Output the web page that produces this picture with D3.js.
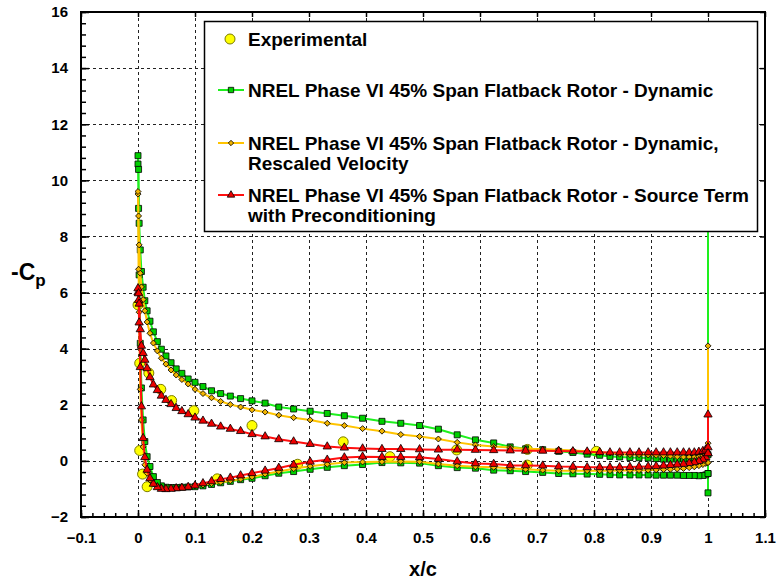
<!DOCTYPE html>
<html>
<head>
<meta charset="utf-8">
<script src="https://cdn.jsdelivr.net/npm/d3@7"></script>
<style>
  body { margin: 0; background: #fff; }
  svg { display: block; }
  text { font-family: "Liberation Sans", Arial, sans-serif; font-weight: bold; fill: #000; }
</style>
</head>
<body>
<svg id="grafico" width="778" height="581"></svg>
<script>
// chordwise stations shared by the three CFD runs
const xc = [0, 0.001, 0.002, 0.004, 0.006, 0.009, 0.012, 0.016, 0.021, 0.027,
  0.034, 0.041, 0.049, 0.058, 0.067, 0.077, 0.088, 0.1, 0.114, 0.129,
  0.145, 0.162, 0.18, 0.2, 0.223, 0.247, 0.273, 0.302, 0.332, 0.362,
  0.394, 0.428, 0.461, 0.494, 0.527, 0.56, 0.592, 0.624, 0.653, 0.68,
  0.71, 0.738, 0.763, 0.788, 0.81, 0.828, 0.845, 0.863, 0.879, 0.895,
  0.909, 0.922, 0.934, 0.946, 0.957, 0.967, 0.976, 0.984, 0.991, 0.996, 1.0];

// -Cp, green run (Dynamic)
const dynUpper = [10.88, 10.39, 8.47, 7.52, 6.75, 6.19, 5.71, 5.35, 4.98, 4.6,
  4.25, 3.98, 3.74, 3.5, 3.28, 3.12, 2.92, 2.8, 2.65, 2.5,
  2.4, 2.31, 2.22, 2.14, 2.06, 1.92, 1.85, 1.77, 1.69, 1.61,
  1.52, 1.41, 1.34, 1.26, 1.13, 0.93, 0.75, 0.64, 0.5, 0.43,
  0.4, 0.34, 0.3, 0.24, 0.2, 0.16, 0.14, 0.12, 0.11, 0.1,
  0.08, 0.06, 0.06, 0.06, 0.07, 0.09, 0.11, 0.14, 0.17, 0.2, 0.22];
const dynLower = [10.58, 9.0, 6.63, 4.19, 2.6, 1.46, 0.69, 0.15, -0.2, -0.56,
  -0.77, -0.89, -0.94, -0.95, -0.95, -0.94, -0.93, -0.92, -0.89, -0.84,
  -0.78, -0.73, -0.67, -0.62, -0.53, -0.44, -0.38, -0.3, -0.23, -0.17,
  -0.13, -0.06, -0.07, -0.08, -0.17, -0.24, -0.26, -0.33, -0.35, -0.38,
  -0.41, -0.45, -0.46, -0.47, -0.48, -0.49, -0.5, -0.5, -0.5, -0.5,
  -0.51, -0.51, -0.51, -0.51, -0.52, -0.52, -0.52, -0.53, -0.52, -0.5, -0.45];
const dynBase = [10.0, -1.14];

// -Cp, orange run (Dynamic, rescaled velocity)
const resUpper = [9.6, 8.73, 7.7, 6.69, 6.2, 5.75, 5.35, 4.95, 4.55, 4.2,
  3.92, 3.66, 3.45, 3.24, 3.06, 2.9, 2.74, 2.55, 2.4, 2.25,
  2.12, 2.01, 1.92, 1.82, 1.74, 1.63, 1.54, 1.46, 1.34, 1.26,
  1.15, 1.06, 0.94, 0.87, 0.78, 0.66, 0.57, 0.51, 0.48, 0.42,
  0.42, 0.4, 0.37, 0.34, 0.3, 0.28, 0.24, 0.22, 0.22, 0.21,
  0.2, 0.19, 0.17, 0.15, 0.14, 0.14, 0.14, 0.15, 0.18, 0.22, 0.24];
const resLower = [9.51, 6.83, 5.3, 2.55, 1.46, 0.5, -0.14, -0.44, -0.68, -0.82,
  -0.9, -0.94, -0.95, -0.95, -0.94, -0.93, -0.92, -0.89, -0.86, -0.81,
  -0.76, -0.71, -0.65, -0.57, -0.47, -0.38, -0.28, -0.19, -0.12, -0.06,
  -0.04, -0.03, -0.02, -0.03, -0.11, -0.17, -0.21, -0.23, -0.26, -0.3,
  -0.33, -0.35, -0.35, -0.35, -0.35, -0.35, -0.34, -0.34, -0.34, -0.33,
  -0.32, -0.31, -0.3, -0.29, -0.27, -0.24, -0.21, -0.17, -0.13, -0.09, -0.06];
const resBase = [4.1, 0.63];

// -Cp, red run (Source term with preconditioning)
const srcUpper = [6.15, 5.97, 5.6, 4.69, 4.1, 3.84, 3.6, 3.3, 2.98, 2.72,
  2.52, 2.32, 2.17, 2.02, 1.88, 1.77, 1.66, 1.54, 1.43, 1.32,
  1.22, 1.14, 1.06, 0.95, 0.87, 0.77, 0.69, 0.6, 0.51, 0.47,
  0.44, 0.42, 0.42, 0.41, 0.4, 0.4, 0.39, 0.38, 0.37, 0.36,
  0.36, 0.35, 0.34, 0.33, 0.31, 0.3, 0.3, 0.3, 0.3, 0.3,
  0.3, 0.3, 0.3, 0.3, 0.3, 0.3, 0.3, 0.32, 0.35, 0.4, 0.48];
const srcLower = [6.0, 5.73, 4.93, 3.34, 1.94, 0.81, 0.13, -0.32, -0.62, -0.82,
  -0.94, -1.0, -1.01, -1.0, -0.98, -0.96, -0.93, -0.88, -0.8, -0.73,
  -0.65, -0.6, -0.52, -0.44, -0.35, -0.25, -0.14, -0.03, 0.04, 0.12,
  0.15, 0.14, 0.14, 0.13, 0.07, -0.02, -0.09, -0.11, -0.16, -0.16,
  -0.17, -0.2, -0.21, -0.23, -0.23, -0.23, -0.23, -0.22, -0.21, -0.2,
  -0.19, -0.17, -0.15, -0.13, -0.11, -0.08, -0.05, -0.01, 0.05, 0.13, 0.27];
const srcBase = [1.65];

// experimental taps
const expX = [0, 0.003, 0.019, 0.04, 0.059, 0.098, 0.2, 0.36, 0.559, 0.683, 0.804,
  0.003, 0.008, 0.016, 0.139, 0.28, 0.442, 0.683];
const expCp = [5.56, 3.48, 3.13, 2.55, 2.15, 1.79, 1.26, 0.68, 0.39, 0.41, 0.34,
  0.37, -0.47, -0.92, -0.64, -0.12, 0.15, -0.15];

const xTicks = [-0.1, 0, 0.1, 0.2, 0.3, 0.4, 0.5, 0.6, 0.7, 0.8, 0.9, 1, 1.1];
const yTicks = [-2, 0, 2, 4, 6, 8, 10, 12, 14, 16];

const leyenda = [
  ['Experimental'],
  ['NREL Phase VI 45% Span Flatback Rotor - Dynamic'],
  ['NREL Phase VI 45% Span Flatback Rotor - Dynamic,', 'Rescaled Velocity'],
  ['NREL Phase VI 45% Span Flatback Rotor - Source Term', 'with Preconditioning']
];

const svg = d3.select('#grafico');
const izq = 81, der = 765, arriba = 12, abajo = 517;

const x = d3.scaleLinear().domain([-0.1, 1.1]).range([izq, der]);
const y = d3.scaleLinear().domain([-2, 16]).range([abajo, arriba]);

// grid
const grid = svg.append('g').attr('stroke', '#222').attr('stroke-width', 1).attr('stroke-dasharray', '3,3');
xTicks.slice(1, -1).forEach(t => {
  grid.append('line').attr('x1', Math.round(x(t)) + 0.5).attr('x2', Math.round(x(t)) + 0.5)
    .attr('y1', arriba).attr('y2', abajo);
});
yTicks.slice(1, -1).forEach(t => {
  grid.append('line').attr('y1', Math.round(y(t)) + 0.5).attr('y2', Math.round(y(t)) + 0.5)
    .attr('x1', izq).attr('x2', der);
});

// axes (ticks inside the frame)
const ejeX = svg.append('g').attr('transform', `translate(0,${abajo})`)
  .call(d3.axisBottom(x).tickValues(d3.range(-0.1, 1.1001, 0.02)).tickSize(-4).tickFormat(''));
ejeX.append('g').call(d3.axisBottom(x).tickValues(xTicks).tickSize(-7).tickFormat(d3.format('')));
const ejeY = svg.append('g').attr('transform', `translate(${izq},0)`)
  .call(d3.axisLeft(y).tickValues(d3.range(-2, 16.001, 0.4)).tickSize(-5).tickFormat(''));
ejeY.append('g').call(d3.axisLeft(y).tickValues(yTicks).tickSize(-8).tickFormat(d3.format('')));
svg.append('g').attr('transform', `translate(0,${arriba})`)
  .call(d3.axisTop(x).tickValues(xTicks).tickSize(-5).tickFormat(''));
svg.append('g').attr('transform', `translate(${der},0)`)
  .call(d3.axisRight(y).tickValues(yTicks).tickSize(-5).tickFormat(''));

svg.selectAll('.domain').remove();
svg.selectAll('.tick line').attr('stroke', '#000').attr('stroke-width', 1.5);
ejeX.selectAll('text').attr('font-size', 15).attr('font-weight', 'bold').attr('font-family', '"Liberation Sans", Arial, sans-serif').attr('dy', '1.55em');
ejeY.selectAll('text').attr('font-size', 15).attr('font-weight', 'bold').attr('font-family', '"Liberation Sans", Arial, sans-serif').attr('x', -13);

svg.append('rect').attr('x', izq).attr('y', arriba).attr('width', der - izq).attr('height', abajo - arriba)
  .attr('fill', 'none').attr('stroke', '#000').attr('stroke-width', 2);

// axis titles
svg.append('text').attr('x', x(0.5)).attr('y', 576).attr('text-anchor', 'middle')
  .attr('font-size', 20).text('x/c');
const ty = svg.append('text').attr('x', 11).attr('y', 280).attr('font-size', 23);
ty.append('tspan').text('-C');
ty.append('tspan').attr('font-size', 17).attr('dy', 6).text('p');

// CFD series: lower surface TE->LE, upper LE->TE, then the flatback base at x/c = 1
const series = [
  { up: dynUpper, lo: dynLower, base: dynBase, line: '#1ef01e', fill: '#00d000', sym: d3.symbolSquare, size: 36, rot: 0 },
  { up: resUpper, lo: resLower, base: resBase, line: '#ffc400', fill: '#f2b400', sym: d3.symbolSquare, size: 18, rot: 45 },
  { up: srcUpper, lo: srcLower, base: srcBase, line: '#ff1010', fill: '#ee0000', sym: d3.symbolTriangle, size: 30, rot: 0 }
];

const puntosExp = expX.map((v, i) => [v, expCp[i]]);
svg.append('g').selectAll('circle').data(puntosExp).join('circle')
  .attr('cx', d => x(d[0])).attr('cy', d => y(d[1])).attr('r', 5)
  .attr('fill', '#ffff00').attr('stroke', '#7a7a00').attr('stroke-width', 1);

const linea = d3.line().x(d => x(d[0])).y(d => y(d[1]));

series.forEach(s => {
  const pts = [];
  for (let i = xc.length - 1; i >= 0; i--) pts.push([xc[i], s.lo[i]]);
  for (let i = 0; i < xc.length; i++) pts.push([xc[i], s.up[i]]);
  s.base.forEach(v => pts.push([1, v]));
  pts.push([1, s.lo[xc.length - 1]]);

  svg.append('path').datum(pts).attr('d', linea)
    .attr('fill', 'none').attr('stroke', s.line).attr('stroke-width', 2).attr('stroke-linejoin', 'round');

  svg.append('g').selectAll('path').data(pts).join('path')
    .attr('d', d3.symbol(s.sym, s.size))
    .attr('transform', d => `translate(${x(d[0])},${y(d[1])}) rotate(${s.rot})`)
    .attr('fill', s.fill).attr('stroke', '#000').attr('stroke-width', 0.8);
});

// legend
const ley = svg.append('g');
ley.append('rect').attr('x', 204.5).attr('y', 21.5).attr('width', 553).attr('height', 210)
  .attr('fill', '#fff').attr('stroke', '#000').attr('stroke-width', 1.5);
const filasY = [39, 90, 143, 195];
leyenda.forEach((lineas, i) => {
  const cy = filasY[i];
  if (i === 0) {
    ley.append('circle').attr('cx', 230).attr('cy', cy).attr('r', 5)
      .attr('fill', '#ffff00').attr('stroke', '#7a7a00');
  } else {
    const s = series[i - 1];
    ley.append('line').attr('x1', 218).attr('x2', 244).attr('y1', cy).attr('y2', cy)
      .attr('stroke', s.line).attr('stroke-width', 2);
    ley.append('path').attr('d', d3.symbol(s.sym, s.size * 0.8))
      .attr('transform', `translate(231,${cy}) rotate(${s.rot})`)
      .attr('fill', s.fill).attr('stroke', '#000').attr('stroke-width', 0.8);
  }
  lineas.forEach((t, j) => {
    ley.append('text').attr('x', 248).attr('y', cy + 7 + j * 20).attr('font-size', 19).text(t);
  });
});
</script>
</body>
</html>
